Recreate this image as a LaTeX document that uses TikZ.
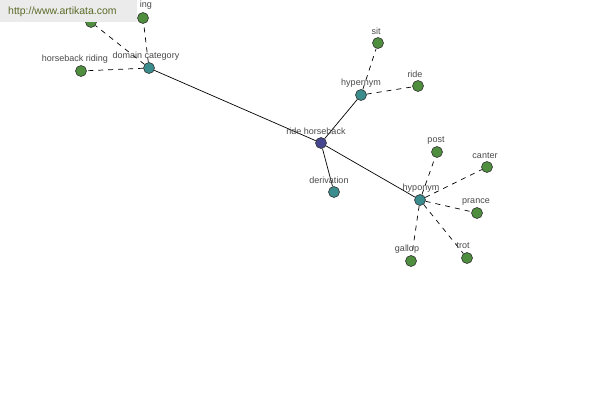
\documentclass[tikz,border=0pt]{standalone}
\usepackage{fontspec}
\setmainfont{Liberation Sans}
\definecolor{leafgreen}{HTML}{4E8E3E}
\definecolor{catteal}{HTML}{3B8C8C}
\definecolor{rootblue}{HTML}{46468F}
\definecolor{lbltext}{HTML}{4A4A4A}
\definecolor{wmbox}{HTML}{EBEBEB}
\definecolor{wmtext}{HTML}{5A6B28}
\begin{document}
\begin{tikzpicture}[x=1pt,y=-1pt,
  dot/.style={circle,draw=black!80,line width=0.6pt,minimum size=11pt,inner sep=0pt},
  leaf/.style={dot,fill=leafgreen},
  cat/.style={dot,fill=catteal},
  root/.style={dot,fill=rootblue},
  lbl/.style={font=\fontsize{9}{10}\selectfont,text=lbltext,inner sep=0pt},
  solidedge/.style={draw=black,line width=0.7pt},
  dashedge/.style={draw=black,line width=0.7pt,dash pattern=on 5pt off 5pt},
  wm/.style={fill=wmbox,draw=none}
]
\useasboundingbox (0,0) rectangle (600,400);
\fill[white] (0,0) rectangle (600,400);

% nodes
\node[root] (rh) at (321,143) {};
\node[cat] (dc) at (149,68) {};
\node[cat] (hyper) at (361,95) {};
\node[cat] (deriv) at (334,192) {};
\node[cat] (hypo) at (420,200) {};
\node[leaf] (sit) at (378,43) {};
\node[leaf] (ride) at (418,86) {};
\node[leaf] (post) at (437,152) {};
\node[leaf] (canter) at (487,167) {};
\node[leaf] (prance) at (477,213) {};
\node[leaf] (trot) at (467,258) {};
\node[leaf] (gallop) at (411,261) {};
\node[leaf] (hbr) at (81,71) {};
\node[leaf] (tl) at (91,22) {};
\node[leaf] (ing) at (143,18) {};

% edges
\draw[solidedge] (rh) -- (dc);
\draw[solidedge] (rh) -- (hyper);
\draw[solidedge] (rh) -- (deriv);
\draw[solidedge] (rh) -- (hypo);
\draw[dashedge] (hyper) -- (sit);
\draw[dashedge] (hyper) -- (ride);
\draw[dashedge] (hypo) -- (post);
\draw[dashedge] (hypo) -- (canter);
\draw[dashedge] (hypo) -- (prance);
\draw[dashedge] (hypo) -- (trot);
\draw[dashedge] (hypo) -- (gallop);
\draw[dashedge] (dc) -- (hbr);
\draw[dashedge] (dc) -- (tl);
\draw[dashedge] (dc) -- (ing);

% labels
\node[lbl] (lrh) at (316,131) {ride horseback};
\node[lbl] (ldc) at (146,56) {domain category};
\node[lbl] (lhyper) at (361,83) {hypernym};
\node[lbl] (lderiv) at (329,180) {derivation};
\node[lbl] (lhypo) at (421,188) {hyponym};
\node[lbl] (lsit) at (376,31) {sit};
\node[lbl] (lride) at (415,74) {ride};
\node[lbl] (lpost) at (436,141) {post};
\node[lbl] (lcanter) at (485,156) {canter};
\node[lbl] (lprance) at (476,202) {prance};
\node[lbl] (ltrot) at (463,246) {trot};
\node[lbl] (lgallop) at (407,249) {gallop};
\node[lbl] (lhbr) at (75,59) {horseback riding};
\node[lbl] (ling) at (146,5) {ing};

% watermark
\fill[wm] (0,0) rectangle (137,22);
\node[font=\fontsize{10.5}{12}\selectfont,text=wmtext,inner sep=0pt,anchor=west] (wmt) at (8,11.5) {http://www.artikata.com};
\end{tikzpicture}
\end{document}
